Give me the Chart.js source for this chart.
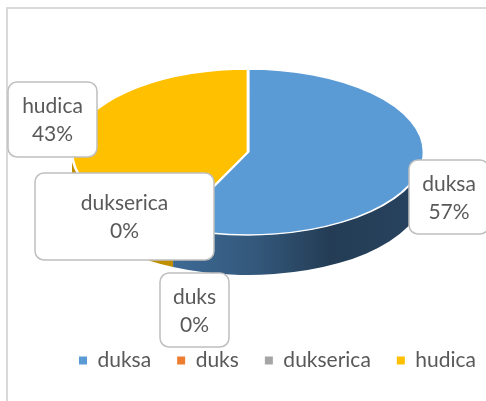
<!DOCTYPE html>
<html>
<head>
<meta charset="utf-8">
<script src="https://cdn.jsdelivr.net/npm/chart.js@4"></script>
<style>
  html, body { margin: 0; padding: 0; background: #fff; overflow: hidden; }
  #frame { position: absolute; left: 6px; top: 7px; width: 700px; height: 700px; border: 2px solid #d9d9d9; }
  #myChart { position: absolute; left: 0; top: 0; }
</style>
</head>
<body>
<div id="frame"></div>
<canvas id="myChart" width="530" height="401"></canvas>
<script>
const labels = ['duksa', 'duks', 'dukserica', 'hudica'];
const values = [57, 0, 0, 43];
const colors = ['#5b9bd5', '#ed7d31', '#a5a5a5', '#ffc000'];

// 3d look: ellipse for the top face and the depth of the side wall
const PIE = { cx: 248, cy: 152, rx: 176, ry: 83, depth: 40 };
// callout boxes, one per slice (Excel moved these by hand)
const boxes = [
    { x: 449, y: 197, w: 80, h: 74 },
    { x: 194.5, y: 310, w: 69, h: 74 },
    { x: 124.5, y: 216.5, w: 179, h: 87 },
    { x: 52.5, y: 119.5, w: 89, h: 75 }
];
const FONT = '21px Lato';
const TEXT = '#595959';

function sideFill(ctx, i) {
    if (i === 0) {
        const g = ctx.createLinearGradient(PIE.cx - PIE.rx, 0, PIE.cx + PIE.rx, 0);
        g.addColorStop(0, '#4576a4');
        g.addColorStop(0.25, '#3f6d99');
        g.addColorStop(0.53, '#33577a');
        g.addColorStop(0.73, '#243d55');
        g.addColorStop(1, '#284360');
        return g;
    }
    if (i === 3) return '#c08f00';
    return colors[i];
}

const pie3d = {
    id: 'pie3d',
    beforeDatasetsDraw(chart) {
        const ctx = chart.ctx;
        const arcs = chart.getDatasetMeta(0).data;
        const { cx, cy, rx, ry, depth } = PIE;
        // side wall, only the front half can be seen
        arcs.forEach((arc, i) => {
            const a1 = Math.max(arc.startAngle, 0);
            const a2 = Math.min(arc.endAngle, Math.PI);
            if (a2 <= a1) return;
            ctx.save();
            ctx.beginPath();
            ctx.ellipse(cx, cy, rx, ry, 0, a1, a2);
            ctx.ellipse(cx, cy + depth, rx, ry, 0, a2, a1, true);
            ctx.closePath();
            ctx.fillStyle = sideFill(ctx, i);
            ctx.fill();
            ctx.restore();
        });
        const R = arcs[0].outerRadius;
        ctx.save();
        ctx.translate(cx, cy);
        ctx.scale(rx / R, ry / R);
        ctx.translate(-arcs[0].x, -arcs[0].y);
    },
    afterDatasetsDraw(chart) {
        chart.ctx.restore();
    },
    afterDraw(chart) {
        const ctx = chart.ctx;
        const total = values.reduce((a, b) => a + b, 0);
        ctx.save();
        ctx.font = FONT;
        ctx.textAlign = 'center';
        ctx.textBaseline = 'middle';
        boxes.forEach((b, i) => {
            ctx.beginPath();
            ctx.roundRect(b.x - b.w / 2, b.y - b.h / 2, b.w, b.h, 9);
            ctx.fillStyle = '#fff';
            ctx.fill();
            ctx.lineWidth = 1.5;
            ctx.strokeStyle = '#bfbfbf';
            ctx.stroke();
            ctx.fillStyle = TEXT;
            ctx.fillText(labels[i], b.x, b.y - 13);
            ctx.fillText(Math.round(values[i] / total * 100) + '%', b.x, b.y + 15);
        });
        ctx.restore();
    }
};

const ctx = document.getElementById('myChart');

const myChart = new Chart(ctx, {
    type: 'pie',
    data: {
        labels: labels,
        datasets: [{
            data: values,
            backgroundColor: colors,
            borderColor: '#ffffff',
            borderWidth: 2.5,
            hoverOffset: 0,
            clip: false
        }]
    },
    options: {
        responsive: false,
        animation: false,
        events: [],
        layout: { padding: { left: 25, right: 0, top: 0, bottom: 20 } },
        plugins: {
            tooltip: { enabled: false },
            legend: {
                position: 'bottom',
                labels: {
                    font: { family: 'Lato', size: 21 },
                    color: TEXT,
                    usePointStyle: true,
                    pointStyle: 'rect',
                    boxWidth: 8,
                    boxHeight: 8,
                    padding: 26,
                    generateLabels(chart) {
                        return Chart.overrides.doughnut.plugins.legend.labels.generateLabels(chart)
                            .map(item => Object.assign(item, { lineWidth: 0, strokeStyle: item.fillStyle }));
                    }
                }
            }
        }
    },
    plugins: [pie3d]
});
</script>
</body>
</html>
